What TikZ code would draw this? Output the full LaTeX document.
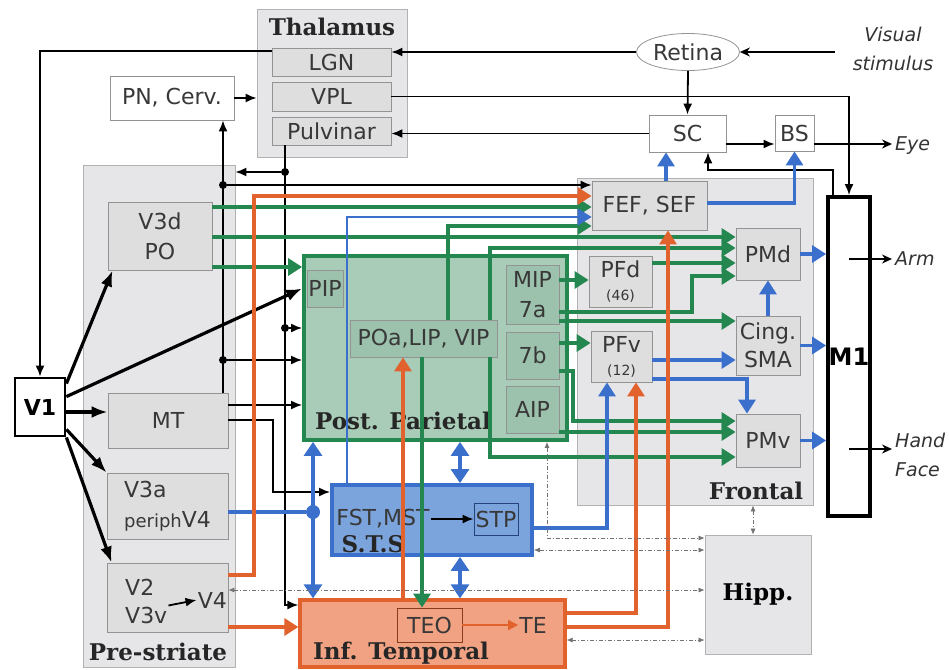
\documentclass[tikz,border=0pt]{standalone}
\usepackage{fontspec}
\usetikzlibrary{arrows.meta,shapes.geometric}

\newfontfamily\lblfont{DejaVu Sans}
\newfontfamily\ttlfont{DejaVu Serif}
\newcommand{\lbl}{\lblfont\fontsize{22}{30}\selectfont}
\newcommand{\ttl}{\ttlfont\bfseries\fontsize{23}{26}\selectfont}
\newcommand{\itl}{\lblfont\itshape\fontsize{19}{29}\selectfont}
\newcommand{\sml}{\fontsize{14}{16}\selectfont}

\definecolor{areagray}{HTML}{E6E6E9}
\definecolor{boxgray}{HTML}{DEDEDF}
\definecolor{parfill}{HTML}{A8CCB8}
\definecolor{parbox}{HTML}{9CC1AC}
\definecolor{grn}{HTML}{23874F}
\definecolor{blu}{HTML}{3A6FCC}
\definecolor{stsfill}{HTML}{7BA3DC}
\definecolor{org}{HTML}{E2622E}
\definecolor{itfill}{HTML}{F0A282}

\tikzset{
  wh/.style 2 args={minimum width=#1pt, minimum height=#2pt},
  area/.style={draw=gray!60, fill=areagray, line width=0.8pt, inner sep=0pt},
  box/.style={draw=gray!85, fill=boxgray, line width=0.8pt, inner sep=0pt,
    font=\lbl, text=black!78, align=center},
  title/.style={font=\ttl, text=black!85, inner sep=0pt},
  txt/.style={font=\lbl, text=black!78, inner sep=1pt},
  link/.style={line width=1.8pt, -{Latex[length=11pt,width=9pt]}},
  fatlink/.style={line width=3.2pt, -{Latex[length=16pt,width=12pt]}},
  outlink/.style={line width=1.5pt, -{Stealth[length=10pt,width=9pt]}},
  grnlink/.style={draw=grn, line width=3.2pt, -{Triangle[length=14pt,width=17pt]}},
  blulink/.style={draw=blu, line width=3.2pt, -{Triangle[length=14pt,width=17pt]}},
  orglink/.style={draw=org, line width=3.2pt, -{Triangle[length=14pt,width=17pt]}},
  bluboth/.style={draw=blu, line width=3.2pt,
    {Triangle[length=14pt,width=18pt]}-{Triangle[length=14pt,width=18pt]}},
  hipplink/.style={draw=black!55, line width=0.7pt,
    dash pattern=on 4pt off 2pt on 1pt off 2pt,
    {Latex[length=6pt,width=5pt]}-{Latex[length=6pt,width=5pt]}},
  junction/.style={circle, fill, inner sep=0pt, minimum size=8pt},
}

\begin{document}
\begin{tikzpicture}[x=1pt,y=-1pt]
  \useasboundingbox (0,0) rectangle (949,669);

  % regions
  \node[area, wh={150}{148}] (thal) at (332,83) {};
  \node[area, wh={152}{502}] (pre) at (159,416) {};
  \node[area, wh={236}{327}] (frontal) at (695,341.5) {};
  \node[area, draw=grn, fill=parfill, line width=3.8pt, wh={263}{184}] (par) at (435.5,348) {};
  \node[area, draw=blu, fill=stsfill, line width=3.8pt, wh={200}{70}] (sts) at (432,520) {};
  \node[area, draw=org, fill=itfill, line width=3.2pt, wh={265}{67}] (it) at (432.5,633.5) {};
  \node[area, wh={106}{119}, font=\ttl] (hipp) at (758,594.5) {Hipp.};

  \node[title] (thalt) at (332,27) {Thalamus};
  \node[title] (pret) at (158,652) {Pre-striate};
  \node[title] (frontt) at (756,491) {Frontal};
  \node[title] (part) at (403,421) {Post. Parietal};
  \node[title] (stst) at (373,544) {S.T.S};
  \node[title] (itt) at (401,653) {Inf. Temporal};

  % thalamus and brainstem
  \node[box, wh={119}{28}] (lgn) at (331.5,62) {LGN};
  \node[box, wh={119}{29}] (vpl) at (331.5,96.5) {VPL};
  \node[box, wh={119}{28}] (pulv) at (331.5,131) {Pulvinar};
  \node[box, fill=white, wh={124}{44}] (pn) at (172,98) {PN, Cerv.};
  \node[box, ellipse, fill=white, wh={103}{37}] (retina) at (688,52) {Retina};
  \node[box, fill=white, wh={77}{37}] (sc) at (687.5,133.5) {SC};
  \node[box, fill=white, wh={39}{36}] (bs) at (794.5,133) {BS};
  \node[box, fill=white, draw=black, line width=3.8pt, wh={42}{319},
    font=\lblfont\bfseries\fontsize{24}{26}\selectfont, text=black] (m1) at (849,356.5) {M1};
  \node[box, fill=white, draw=black, line width=2.8pt, wh={50}{58},
    font=\lblfont\bfseries\fontsize{22}{24}\selectfont, text=black] (v1) at (40,407) {V1};

  % pre-striate
  \node[box, wh={104}{68}] (v3d) at (160,236) {V3d\\PO};
  \node[box, wh={120}{55}] (mt) at (168,420.5) {MT};
  \node[box, wh={121}{66}, align=left] (v3a) at (167.5,506) {V3a\\{\fontsize{18}{20}\selectfont periph}V4};
  \node[box, wh={121}{69}] (v2) at (167.5,597.5) {};
  \node[txt, anchor=west] (v2a) at (124,587) {V2};
  \node[txt, anchor=west] (v3v) at (124,615) {V3v};
  \node[txt, anchor=east] (v4) at (228,600) {V4};

  % parietal
  \node[box, fill=parbox, wh={36}{37}] (pip) at (325,288.5) {PIP};
  \node[box, fill=parbox, wh={147}{37}] (poa) at (423.5,338.5) {POa,LIP, VIP};
  \node[box, fill=parbox, wh={53}{59}] (mip) at (532.5,294.5) {MIP\\7a};
  \node[box, fill=parbox, wh={53}{47}] (b7) at (532.5,355.5) {7b};
  \node[box, fill=parbox, wh={53}{47}] (aip) at (532.5,409.5) {AIP};

  % frontal
  \node[box, wh={115}{49}] (fef) at (649.5,205.5) {FEF, SEF};
  \node[box, wh={63}{51}] (pfd) at (620.5,281.5) {PFd\\[-7pt]{\sml(46)}};
  \node[box, wh={61}{51}] (pfv) at (621.5,356.5) {PFv\\[-7pt]{\sml(12)}};
  \node[box, wh={64}{52}] (pmd) at (768,254) {PMd};
  \node[box, wh={64}{59}] (cing) at (768,345.5) {Cing.\\[-2pt]SMA};
  \node[box, wh={64}{53}] (pmv) at (768,440.5) {PMv};

  % temporal
  \node[txt] (fstmst) at (383,519) {FST,MST};
  \node[box, fill=stsfill, draw=blu!60!black, wh={44}{32}] (stp) at (496,519) {STP};
  \node[box, fill=itfill, draw=org!60!black, wh={65}{34}] (teo) at (429.5,625) {TEO};
  \node[txt] (te) at (533,625) {TE};

  \node[font=\itl, text=black!80, align=center, inner xsep=18pt, inner ysep=0pt] (vis) at (893,49) {Visual\\stimulus};
  \node[font=\itl, text=black!80, anchor=west, inner sep=3pt] (eye) at (892,146) {Eye};
  \node[font=\itl, text=black!80, anchor=west, inner sep=3pt] (arm) at (892,259) {Arm};
  \node[font=\itl, text=black!80, anchor=west, align=left, inner sep=3pt] (hand) at (892,455) {Hand\\Face};

  \node[junction] (j1) at (223,185) {};
  \node[junction] (j2) at (223,360) {};
  \node[junction] (j3) at (285,172) {};
  \node[junction] (j4) at (285,328) {};
  \node[junction, fill=blu, minimum size=14pt] (j5) at (313,512) {};

  % black pathways
  \draw[link] (lgn.west |- 0,51) -| (v1.north);
  \draw[link] (retina.west) -- (lgn.east |- retina.west);
  \draw[outlink] (vis.west |- retina.east) -- (retina.east);
  \draw[link] (retina.south) -- (sc.north);
  \draw[link] (vpl.east) -| (m1.north);
  \draw[link] (sc.west) -- (pulv.east |- sc.west);
  \draw[link] (sc.east |- 0,144) -- (bs.west |- 0,144);
  \draw[outlink] (bs.east |- 0,144) -- (eye.west |- 0,144);
  \draw[link] (m1.north -| 833,0) |- (708,170) -- (sc.south -| 708,0);
  \draw[link] (pn.east) -- (pn.east -| thal.west);
  \draw[link] (mt.north -| j1) -- (pn.south -| j1);
  \draw[link] (j1) -- (fef.west |- j1);
  \draw[link] (j2) -- (par.west |- j2);
  \draw[link] (pulv.south -| j3) |- (it.west |- 0,605);
  \draw[link] (j3) -- (pre.east |- j3);
  \draw[link] (j4) -- (par.west |- j4);
  \draw[link] (mt.east |- 0,405) -- (par.west |- 0,405);
  \draw[link] (mt.east |- 0,420) -| (273,492) -- (sts.west |- 0,492);
  \draw[link] (fstmst) -- (stp);
  \draw[link] (v3v.north east) -- (v4.west);
  \draw[outlink] (m1.center |- arm.west) -- (arm.west);
  \draw[outlink] (m1.center |- 0,449) -- (hand.west |- 0,449);

  \draw[fatlink] ([yshift=-7pt]v1.north east) -- ([xshift=5pt]v3d.south west);
  \draw[fatlink] ([yshift=-20pt]v1.north east) -- (par.west |- pip.west);
  \draw[fatlink] (v1.east |- 0,412) -- (mt.west |- 0,412);
  \draw[fatlink] ([yshift=8pt]v1.south east) -- (v3a.north west);
  \draw[fatlink] (v1.south east) -- ([xshift=5pt]v2.north west);

  % green pathways
  \draw[grnlink] (v3d.east |- 0,207) -- (fef.west |- 0,207);
  \draw[grnlink] (v3d.east |- 0,237) -- (pmd.west |- 0,237);
  \draw[grnlink] (v3d.east |- 0,267) -- (par.west |- 0,267);
  \draw[grnlink] (poa.north -| 448,0) |- (fef.west |- 0,226);
  \draw[grnlink] (poa.north -| 490,0) |- (pmd.west |- 0,248);
  \draw[grnlink] (poa.south -| 490,0) |- (pmv.west |- 0,457);
  \draw[grnlink] (poa.south -| 422,0) -- (teo.north -| 422,0);
  \draw[grnlink] (mip.east |- 0,280) -- (pfd.west |- 0,280);
  \draw[grnlink] (pfd.east |- 0,263) -- (pmd.west |- 0,263);
  \draw[grnlink] (mip.east |- 0,312) -| (692,276) -- (pmd.west |- 0,276);
  \draw[grnlink] (mip.east |- 0,321) -- (cing.west |- 0,321);
  \draw[grnlink] (b7.east |- 0,343) -- (pfv.west |- 0,343);
  \draw[grnlink] (b7.east |- 0,371) -| (573,421) -- (pmv.west |- 0,421);
  \draw[grnlink] (aip.east |- 0,432) -- (pmv.west |- 0,432);

  % blue pathways
  \draw[blulink] (fef.north -| 666,0) -- (sc.south -| 666,0);
  \draw[blulink] (fef.east |- 0,203) -| (bs.south);
  \draw[blulink] (pmd.east) -- (m1.west |- pmd.east);
  \draw[blulink] (cing.east) -- (m1.west |- cing.east);
  \draw[blulink] (pmv.east) -- (m1.west |- pmv.east);
  \draw[blulink] (cing.north) -- (pmd.south);
  \draw[blulink] (pfv.east |- 0,360) -- (cing.west |- 0,360);
  \draw[blulink] (pfv.east |- 0,379) -| (pmv.north -| 747,0);
  \draw[blulink, line width=2pt] (sts.north -| 347,0) |- (fef.west |- 0,217);
  \draw[blulink] (sts.east |- 0,528) -| (pfv.south -| 607,0);
  \draw[blu, line width=3.2pt] (v3a.east |- j5) -- (j5);
  \draw[bluboth] (par.south -| j5) -- (it.north -| j5);
  \draw[bluboth] (par.south -| 460,0) -- (sts.north -| 460,0);
  \draw[bluboth] (sts.south -| 460,0) -- (it.north -| 460,0);

  % orange pathways
  \draw[orglink] (v2.east |- 0,575) -| (254,196) -- (fef.west |- 0,196);
  \draw[orglink] (v2.east |- 0,627) -- (it.west |- 0,627);
  \draw[orglink] (it.north -| 403,0) -- (poa.south -| 403,0);
  \draw[orglink, line width=1.6pt, -{Triangle[length=10pt,width=10pt]}] (teo.east) -- (te.west);
  \draw[orglink] (it.east |- 0,613) -| (pfv.south -| 636,0);
  \draw[orglink] (it.east |- 0,627) -| (fef.south -| 668,0);

  % hippocampus
  \draw[hipplink] (par.south -| 547,0) |- (hipp.west |- 0,538);
  \draw[hipplink] (sts.east |- 0,550) -- (hipp.west |- 0,550);
  \draw[hipplink] (v2.east |- 0,590) -- (hipp.west |- 0,590);
  \draw[hipplink] (it.east |- 0,640) -- (hipp.west |- 0,640);
  \draw[hipplink] (frontal.south -| 753,0) -- (hipp.north -| 753,0);
\end{tikzpicture}
\end{document}
